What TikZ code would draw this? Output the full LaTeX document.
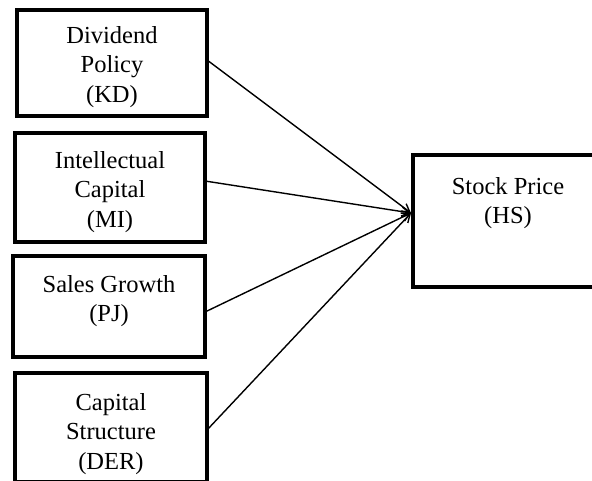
\documentclass[tikz,border=0pt]{standalone}
\usepackage{fontspec}
\setmainfont{Liberation Serif}
\usetikzlibrary{arrows.meta}
\begin{document}
\begin{tikzpicture}[x=1pt,y=-1pt,
  lbl/.style={align=center,font=\fontsize{24.5}{29.5}\selectfont,inner sep=0pt},
  conn/.style={line width=1.4pt,-{Straight Barb[length=8pt,width=9pt,line width=1.4pt]}}]
\useasboundingbox (0,0) rectangle (592,481);
% boxes
\draw[line width=4pt] (17,10) rectangle (207,116);
\node[lbl] (kd) at (112,67) {Dividend\\Policy\\(KD)};
\coordinate (kdo) at (207,60);
\draw[line width=4pt] (15,133) rectangle (205,242);
\node[lbl] (mi) at (110,192) {Intellectual\\Capital\\(MI)};
\coordinate (mio) at (205,181);
\draw[line width=4pt] (13,256) rectangle (205,357);
\node[lbl] (pj) at (109,301) {Sales Growth\\(PJ)};
\coordinate (pjo) at (205,312);
\draw[line width=4pt] (15,373) rectangle (207,482);
\node[lbl] (der) at (111,434) {Capital\\Structure\\(DER)};
\coordinate (dero) at (207,430);
\draw[line width=4pt] (413,155) rectangle (600,287);
\node[lbl] (hs) at (508,203) {Stock Price\\(HS)};
\coordinate (hsin) at (411,213);
% connectors
\draw[conn] (kdo) -- (hsin);
\draw[conn] (mio) -- (hsin);
\draw[conn] (pjo) -- (hsin);
\draw[conn] (dero) -- (hsin);
\end{tikzpicture}
\end{document}
